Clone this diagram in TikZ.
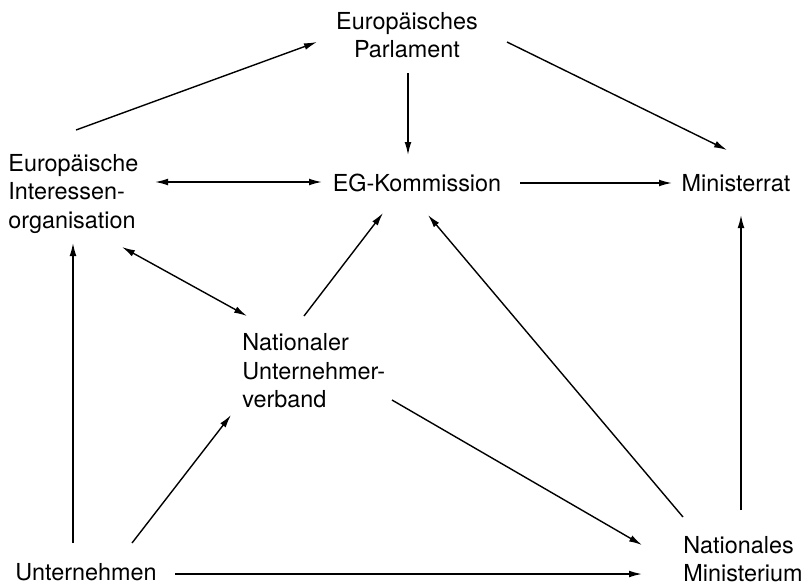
\documentclass[tikz,border=0pt]{standalone}
\usepackage{fontspec}
\setmainfont{TeX Gyre Heros}
\usetikzlibrary{arrows.meta,calc}

\begin{document}
\begin{tikzpicture}[x=0.5pt,y=-0.5pt,
  box/.style={inner sep=0pt,font=\fontsize{11.7}{14.25}\selectfont},
  arr/.style={-{Latex[length=6.5pt,width=3.4pt]},line width=0.7pt},
  biarr/.style={{Latex[length=6.5pt,width=3.4pt]}-{Latex[length=6.5pt,width=3.4pt]},line width=0.7pt}]
  \useasboundingbox (0,0) rectangle (808,586);
  \node [box,align=center] (parl) at (407,35) {Europäisches\\Parlament};
  \node [box] (kom) at (417,183) {EG-Kommission};
  \node [box] (minis) at (736,183) {Ministerrat};
  \node [box,align=left,anchor=west] (eur) at (8,194) {Europäische\\Interessen-\\organisation};
  \node [box,align=left,anchor=west] (verb) at (242,371) {Nationaler\\Unternehmer-\\verband};
  \node [box,anchor=west] (unt) at (15,572) {Unternehmen};
  \node [box,align=left,anchor=west] (natmin) at (683,559) {Nationales\\Ministerium};

  \draw [arr] ($(eur.west)+(68,-64)$) -- ($(parl)+(-90,7)$);
  \draw [arr] ($(parl)+(1,38)$) -- ($(kom)+(-9,-28)$);
  \draw [arr] ($(parl)+(100,7)$) -- ($(minis)+(-9,-33)$);
  \draw [biarr] ($(eur.west)+(147,-12)$) -- ($(kom)+(-95,-1)$);
  \draw [arr] ($(kom)+(103,0)$) -- ($(minis)+(-64,0)$);
  \draw [arr] ($(verb.west)+(62,-55)$) -- ($(kom)+(-34,30)$);
  \draw [biarr] ($(eur.west)+(114,53)$) -- ($(verb.west)+(5,-55)$);
  \draw [arr] ($(natmin.west)+(0,-42)$) -- ($(kom)+(11,32)$);
  \draw [arr] ($(natmin.west)+(58,-49)$) -- ($(minis)+(5,32)$);
  \draw [arr] ($(verb.west)+(150,29)$) -- ($(natmin.west)+(-41,-14)$);
  \draw [arr] ($(unt.west)+(160,2)$) -- ($(natmin.west)+(-41,15)$);
  \draw [arr] ($(unt.west)+(58,-29)$) -- ($(eur.west)+(65,49)$);
  \draw [arr] ($(unt.west)+(117,-29)$) -- ($(verb.west)+(-11,44)$);
\end{tikzpicture}
\end{document}
